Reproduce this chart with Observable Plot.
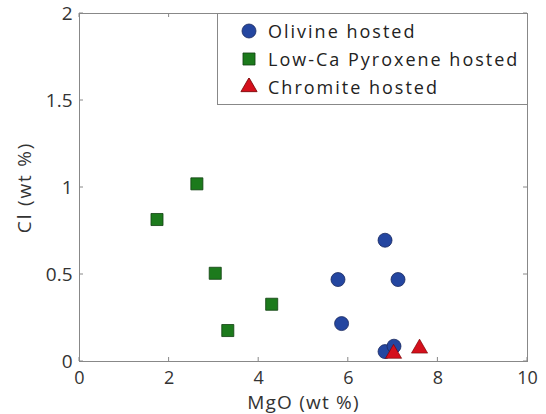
<!DOCTYPE html>
<html>
<head>
<meta charset="utf-8">
<script src="https://cdn.jsdelivr.net/npm/d3@7"></script>
<script src="https://cdn.jsdelivr.net/npm/@observablehq/plot@0.6"></script>
<style>
  body { margin: 0; background: #fff; }
  #wrap { position: relative; width: 546px; height: 414px; font-family: "Open Sans", sans-serif; }
  #legend { position: absolute; left: 217px; top: 13px; width: 309px; height: 90px; border: 1px solid #888; background: #fff; box-sizing: content-box; }
  .row { position: absolute; left: 0; height: 28px; display: flex; align-items: center; font-size: 18px; color: #222; letter-spacing: 2px; }
  .row svg { margin-left: 22px; margin-right: 10px; }
</style>
</head>
<body>
<div id="wrap"></div>
<script>
// Data
const olivineMgO = [5.77, 5.85, 6.82, 7.11, 6.82, 7.02];
const olivineCl  = [0.471, 0.218, 0.697, 0.471, 0.057, 0.088];
const pyroxMgO   = [1.73, 2.62, 3.03, 4.29, 3.31];
const pyroxCl    = [0.816, 1.021, 0.507, 0.329, 0.178];
const chromMgO   = [7.01, 7.59];
const chromCl    = [0.045, 0.075];
const xTicks = [0, 2, 4, 6, 8, 10];
const yTicks = [0, 0.5, 1, 1.5, 2];
const seriesNames = ["Olivine hosted", "Low-Ca Pyroxene hosted", "Chromite hosted"];
const seriesColors = ["#2446a0", "#1c7a1c", "#d4101c"];

const zip = (xs, ys) => xs.map((x, i) => ({x, y: ys[i]}));
const olivine = zip(olivineMgO, olivineCl);
const pyrox = zip(pyroxMgO, pyroxCl);
const chrom = zip(chromMgO, chromCl);

const fmtY = d => d === 0 ? "0" : String(d);

const chart = Plot.plot({
  width: 546,
  height: 414,
  marginLeft: 79,
  marginRight: 19,
  marginTop: 13,
  marginBottom: 53,
  style: {fontFamily: "Open Sans, sans-serif", fontSize: "19px", color: "#333", background: "#fff"},
  x: {domain: [0, 10]},
  y: {domain: [0, 2]},
  marks: [
    Plot.frame({stroke: "#888", strokeWidth: 1}),
    Plot.axisX(xTicks, {anchor: "bottom", tickSize: 0, tickPadding: 10, fontSize: 18, tickFormat: d => String(d), label: null, fill: "#333"}),
    Plot.axisX({anchor: "bottom", ticks: [], tickSize: 0, label: "MgO (wt %)", labelAnchor: "center", labelOffset: 47, labelArrow: "none", fill: "#333"}),
    Plot.axisY(yTicks, {anchor: "left", tickSize: 0, tickPadding: 7, tickFormat: fmtY, label: "Cl (wt %)", labelAnchor: "center", labelOffset: 62, labelArrow: "none", fill: "#333"}),
    Plot.dot(olivine, {x: "x", y: "y", symbol: "circle", r: 7, fill: seriesColors[0], stroke: "#1a2a60", strokeWidth: 0.8}),
    Plot.dot(pyrox, {x: "x", y: "y", symbol: "square", r: 6.8, fill: seriesColors[1], stroke: "#124012", strokeWidth: 0.8}),
    Plot.dot(chrom, {x: "x", y: "y", symbol: "triangle", r: 6, fill: seriesColors[2], stroke: "#700000", strokeWidth: 0.6})
  ]
});

// Wider letter spacing on the axis titles, as in the reference
d3.select(chart).selectAll('g[aria-label="x-axis label"] text').style("letter-spacing", "1.2px");
d3.select(chart).selectAll('g[aria-label="y-axis label"] text').style("letter-spacing", "1.8px");

// Inward ticks on all four sides, placed through the plot's own scales
const sx = chart.scale("x"), sy = chart.scale("y");
const [x0, x1] = sx.range, [y0, y1] = sy.range; // y0 bottom, y1 top
const tickLen = 4;
const g = d3.select(chart).append("g").attr("stroke", "#888").attr("stroke-width", 1);
xTicks.forEach(v => {
  const px = sx.apply(v);
  g.append("line").attr("x1", px).attr("x2", px).attr("y1", y0).attr("y2", y0 - tickLen);
  g.append("line").attr("x1", px).attr("x2", px).attr("y1", y1).attr("y2", y1 + tickLen);
});
yTicks.forEach(v => {
  const py = sy.apply(v);
  g.append("line").attr("y1", py).attr("y2", py).attr("x1", x0).attr("x2", x0 + tickLen);
  g.append("line").attr("y1", py).attr("y2", py).attr("x1", x1).attr("x2", x1 - tickLen);
});

const wrap = document.getElementById("wrap");
wrap.appendChild(chart);

// Legend
const legend = document.createElement("div");
legend.id = "legend";
const symbols = [d3.symbolCircle, d3.symbolSquare, d3.symbolTriangle];
const symbolSizes = [Math.PI * 49, Math.PI * 6.8 * 6.8, Math.PI * 36];
const strokes = ["#1a2a60", "#124012", "#700000"];
const rowTops = [3, 31, 59];
seriesNames.forEach((name, i) => {
  const row = document.createElement("div");
  row.className = "row";
  row.style.top = rowTops[i] + "px";
  const s = d3.create("svg").attr("width", 18).attr("height", 18);
  s.append("path").attr("transform", "translate(9,9)").attr("d", d3.symbol(symbols[i], symbolSizes[i])())
    .attr("fill", seriesColors[i]).attr("stroke", strokes[i]).attr("stroke-width", 0.8);
  row.appendChild(s.node());
  const t = document.createElement("span");
  t.textContent = name;
  row.appendChild(t);
  legend.appendChild(row);
});
wrap.appendChild(legend);
</script>
</body>
</html>
